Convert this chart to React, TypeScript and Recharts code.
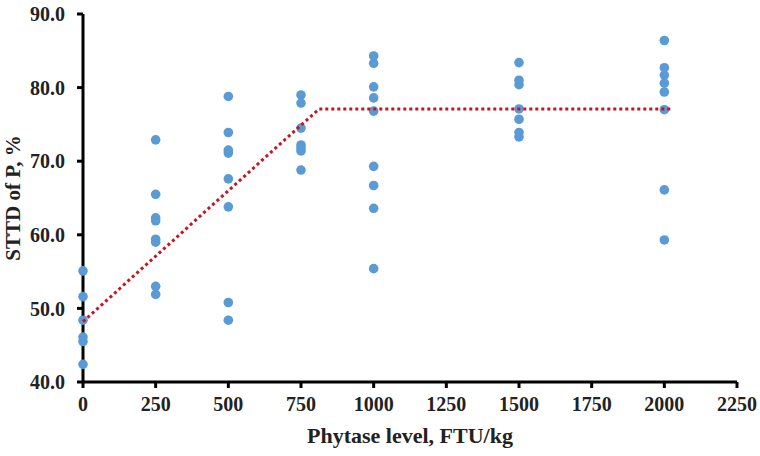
import React from 'react';
import { ScatterChart, Scatter, XAxis, YAxis } from 'recharts';

const xTicks = [0, 250, 500, 750, 1000, 1250, 1500, 1750, 2000, 2250];
const yTicks = [40, 50, 60, 70, 80, 90];

const dose0 = [55.1, 51.6, 48.4, 46.1, 45.5, 42.4];
const dose250 = [72.9, 65.5, 62.3, 61.9, 59.4, 59.0, 53.0, 51.9];
const dose500 = [78.8, 73.9, 71.5, 71.1, 67.6, 63.8, 50.8, 48.4];
const dose750 = [79.0, 77.9, 74.5, 72.2, 71.8, 71.4, 68.8];
const dose1000 = [84.3, 83.3, 80.1, 78.6, 76.8, 69.3, 66.7, 63.6, 55.4];
const dose1500 = [83.4, 81.0, 80.4, 77.1, 75.7, 73.9, 73.3];
const dose2000 = [86.4, 82.7, 81.7, 80.6, 79.4, 77.0, 66.1, 59.3];

const doses = [0, 250, 500, 750, 1000, 1500, 2000];
const values = [dose0, dose250, dose500, dose750, dose1000, dose1500, dose2000];

const lineX = [0, 812, 2025];
const lineY = [48.2, 77.1, 77.1];

const points = doses.flatMap((d, i) => values[i].map((v) => ({ x: d, y: v })));
const brokenLine = lineX.map((x, i) => ({ x, y: lineY[i] }));

const font = '"Liberation Serif", "Times New Roman", serif';
const tickStyle = { fontFamily: font, fontWeight: 700, fontSize: 20, fill: '#222' };

const Dot = (props: any) => <circle cx={props.cx} cy={props.cy} r={4.8} fill="#5b9bd5" />;
const NoDot = () => <g />;

export default function App() {
  return (
    <div style={{ position: 'absolute', left: 0, top: 0, background: '#fff' }}>
      <ScatterChart width={760} height={456} margin={{ top: 14, right: 23, left: 0, bottom: 0 }}>
        <XAxis
          type="number"
          dataKey="x"
          domain={[0, 2250]}
          ticks={xTicks}
          interval={0}
          height={74}
          axisLine={{ stroke: '#000', strokeWidth: 3 }}
          tickLine={{ stroke: '#000', strokeWidth: 3 }}
          tickSize={6}
          tickMargin={9}
          tick={tickStyle}
          label={{
            content: (p: any) => {
              const vb = p.viewBox || { x: 83, y: 382, width: 654, height: 74 };
              return (
                <text
                  x={vb.x + vb.width / 2}
                  y={vb.y + 61}
                  textAnchor="middle"
                  style={{ fontFamily: font, fontWeight: 700, fontSize: 22, fill: '#222' }}
                >
                  Phytase level, FTU/kg
                </text>
              );
            },
          }}
        />
        <YAxis
          type="number"
          dataKey="y"
          domain={[40, 90]}
          ticks={yTicks}
          interval={0}
          width={83}
          axisLine={{ stroke: '#000', strokeWidth: 3 }}
          tickLine={{ stroke: '#000', strokeWidth: 3 }}
          tickSize={6}
          tickMargin={12}
          tick={tickStyle}
          tickFormatter={(v: number) => v.toFixed(1)}
          label={{
            content: (p: any) => {
              const vb = p.viewBox || { x: 0, y: 14, width: 83, height: 368 };
              const cx = vb.x + 20;
              const cy = vb.y + vb.height / 2;
              return (
                <text
                  x={cx}
                  y={cy}
                  textAnchor="middle"
                  transform={`rotate(-90 ${cx} ${cy})`}
                  style={{ fontFamily: font, fontWeight: 700, fontSize: 21, fill: '#222' }}
                >
                  STTD of P, %
                </text>
              );
            },
          }}
        />
        <Scatter data={points} shape={Dot} isAnimationActive={false} />
        <Scatter
          data={brokenLine}
          shape={NoDot}
          line={{ stroke: '#c8141e', strokeWidth: 3, strokeDasharray: '3 3' }}
          lineType="joint"
          isAnimationActive={false}
        />
      </ScatterChart>
    </div>
  );
}
